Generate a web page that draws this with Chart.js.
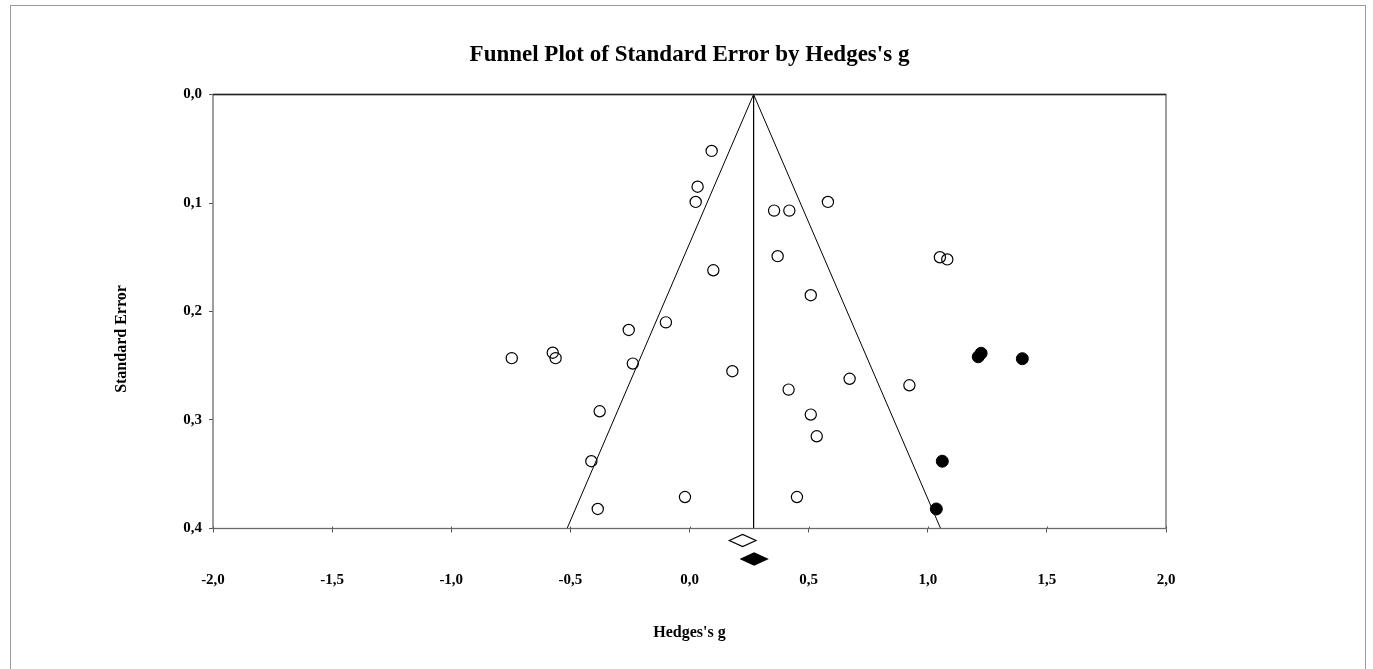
<!DOCTYPE html>
<html>
<head>
<meta charset="utf-8">
<script src="https://cdn.jsdelivr.net/npm/chart.js@4.4.1/dist/chart.umd.min.js"></script>
<style>
  html, body { margin: 0; padding: 0; background: #fff; overflow: hidden; }
  #frame { position: absolute; left: 10px; top: 5px; width: 1354px; height: 700px; border: 1px solid #9a9a9a; }
  #funnel { position: absolute; left: 0; top: 0; }
</style>
</head>
<body>
<div id="frame"></div>
<canvas id="funnel" width="1373" height="669"></canvas>
<script>
// observed studies (open circles)
const obsG  = [0.093, 0.034, 0.026, 0.355, 0.419, 0.581, 0.370, 0.100, 0.509, -0.099,
               -0.255, -0.746, -0.574, -0.562, -0.238, 0.180, 0.672, 0.416, -0.377, 0.509,
               0.534, -0.412, -0.385, -0.019, 0.451, 0.923, 1.051, 1.082];
const obsSE = [0.052, 0.085, 0.099, 0.107, 0.107, 0.099, 0.149, 0.162, 0.185, 0.210,
               0.217, 0.243, 0.238, 0.243, 0.248, 0.255, 0.262, 0.272, 0.292, 0.295,
               0.315, 0.338, 0.382, 0.371, 0.371, 0.268, 0.150, 0.152];

// imputed studies (filled circles)
const impG  = [1.212, 1.224, 1.397, 1.061, 1.036];
const impSE = [0.2417, 0.2385, 0.2435, 0.338, 0.382];

// funnel: left edge, apex, right edge
const funnelG  = [-0.514, 0.269, 1.054];
const funnelSE = [0.4, 0, 0.4];

// summary diamonds: [lower, mean, upper]
const observedSummary = [0.167, 0.223, 0.279];
const adjustedSummary = [0.216, 0.271, 0.327];

const xTickValues = [-2, -1.5, -1, -0.5, 0, 0.5, 1, 1.5, 2];
const yTickValues = [0, 0.1, 0.2, 0.3, 0.4];

const serif = "'Liberation Serif', 'Times New Roman', serif";

function toPoints(xs, ys) {
  return xs.map((x, i) => ({ x: x, y: ys[i] }));
}

function commaLabel(v) {
  return Number(v).toFixed(1).replace('.', ',');
}

// title, y axis title, plot box and diamonds
const extras = {
  id: 'extras',
  afterDraw(chart) {
    const ctx = chart.ctx;
    const area = chart.chartArea;
    const xs = chart.scales.x;

    ctx.save();
    ctx.lineWidth = 1.3;
    ctx.strokeStyle = '#6a6a6a';
    ctx.strokeRect(area.left, area.top, area.right - area.left, area.bottom - area.top);
    ctx.strokeStyle = '#222';
    ctx.beginPath();
    ctx.moveTo(area.left, area.top);
    ctx.lineTo(area.right, area.top);
    ctx.stroke();

    // x ticks also poke a little into the plot
    ctx.strokeStyle = '#555';
    ctx.lineWidth = 1;
    xTickValues.forEach(v => {
      const px = Math.round(xs.getPixelForValue(v)) + 0.5;
      ctx.beginPath();
      ctx.moveTo(px, area.bottom - 2);
      ctx.lineTo(px, area.bottom);
      ctx.stroke();
    });

    // diamonds under the axis
    function diamond(vals, cy, filled) {
      const l = xs.getPixelForValue(vals[0]);
      const m = xs.getPixelForValue(vals[1]);
      const r = xs.getPixelForValue(vals[2]);
      ctx.beginPath();
      ctx.moveTo(l, cy);
      ctx.lineTo(m, cy - 6);
      ctx.lineTo(r, cy);
      ctx.lineTo(m, cy + 6);
      ctx.closePath();
      ctx.lineWidth = 1.2;
      ctx.strokeStyle = '#000';
      if (filled) { ctx.fillStyle = '#000'; ctx.fill(); }
      ctx.stroke();
    }
    diamond(observedSummary, area.bottom + 12, false);
    diamond(adjustedSummary, area.bottom + 30.5, true);

    ctx.fillStyle = '#000';
    ctx.textAlign = 'center';
    ctx.textBaseline = 'middle';
    ctx.font = 'bold 23px ' + serif;
    ctx.fillText("Funnel Plot of Standard Error by Hedges's g", (area.left + area.right) / 2, 55);

    ctx.translate(121.5, 339);
    ctx.rotate(-Math.PI / 2);
    ctx.font = 'bold 16px ' + serif;
    ctx.fillText('Standard Error', 0, 0);
    ctx.restore();
  }
};

const ctx = document.getElementById('funnel').getContext('2d');
new Chart(ctx, {
  type: 'scatter',
  data: {
    datasets: [
      {
        label: 'Funnel',
        data: toPoints(funnelG, funnelSE),
        showLine: true,
        borderColor: '#000',
        borderWidth: 1,
        pointRadius: 0,
        fill: false
      },
      {
        label: 'Mean',
        data: toPoints([funnelG[1], funnelG[1]], [0, 0.4]),
        showLine: true,
        borderColor: '#000',
        borderWidth: 1,
        pointRadius: 0
      },
      {
        label: 'Observed',
        data: toPoints(obsG, obsSE),
        pointRadius: 5.6,
        pointBorderWidth: 1.2,
        pointBorderColor: '#000',
        pointBackgroundColor: 'rgba(0,0,0,0)'
      },
      {
        label: 'Imputed',
        data: toPoints(impG, impSE),
        pointRadius: 6,
        pointBorderWidth: 1,
        pointBorderColor: '#000',
        pointBackgroundColor: '#000',
        clip: false
      }
    ]
  },
  options: {
    responsive: false,
    animation: false,
    devicePixelRatio: 1,
    layout: { padding: { top: 94.5, right: 207, left: 0, bottom: 0 } },
    plugins: {
      legend: { display: false },
      tooltip: { enabled: false },
      title: { display: false }
    },
    scales: {
      x: {
        type: 'linear',
        min: -2,
        max: 2,
        afterBuildTicks: s => { s.ticks = xTickValues.map(v => ({ value: v })); },
        afterFit: s => { s.height = 669 - 528.5; },
        grid: { drawOnChartArea: false, color: '#555', tickLength: 4 },
        border: { display: false },
        ticks: {
          color: '#000',
          font: { family: serif, size: 15, weight: 'bold' },
          padding: 39,
          maxRotation: 0,
          autoSkip: false,
          callback: v => commaLabel(v)
        },
        title: {
          display: true,
          text: "Hedges's g",
          color: '#000',
          font: { family: serif, size: 16, weight: 'bold' },
          padding: { top: 0, bottom: 26.5 }
        }
      },
      y: {
        type: 'linear',
        reverse: true,
        min: 0,
        max: 0.4,
        afterBuildTicks: s => { s.ticks = yTickValues.map(v => ({ value: v })); },
        afterFit: s => { s.width = 213; },
        grid: { drawOnChartArea: false, color: '#555', tickLength: 4 },
        border: { display: false },
        ticks: {
          color: '#000',
          font: { family: serif, size: 15, weight: 'bold' },
          padding: 7,
          autoSkip: false,
          callback: v => commaLabel(v)
        }
      }
    }
  },
  plugins: [extras]
});
</script>
</body>
</html>
